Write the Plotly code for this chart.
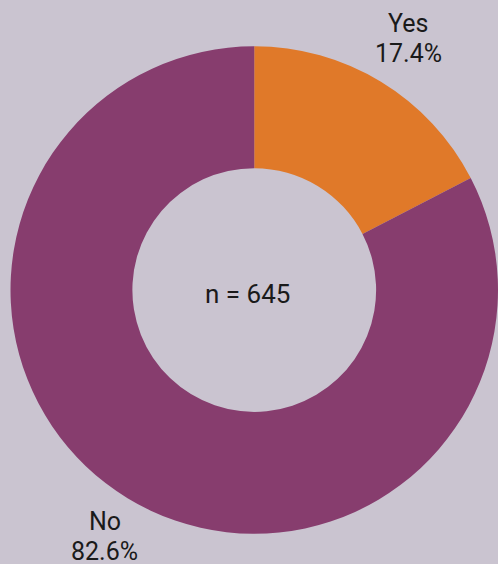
import math
import plotly.graph_objects as go

categories = ["Yes", "No"]
values = [17.4, 82.6]
colors = ["#e07929", "#873d6e"]
sample_label = "n = 645"

W, H = 498, 564
lx, ly = 256.5, 287.5           # centre used for the outside labels (pixels)
label_r = 292.0                 # distance of outside labels from that centre
line_gap = 15.0                 # half the distance between the two label lines

fig = go.Figure()
fig.add_trace(go.Pie(
    labels=categories,
    values=values,
    hole=0.5,
    sort=False,
    direction="clockwise",
    rotation=0,
    marker=dict(colors=colors, line=dict(width=0)),
    textinfo="none",
    hoverinfo="label+percent",
    showlegend=False,
    domain=dict(x=[0.0211, 1.0], y=[(H - 535) / H, (H - 45) / H]),
))

label_font = dict(family="Roboto", size=25, color="#1a1a1a")

# outside labels placed along each slice's mid-angle
total = sum(values)
cum = 0.0
for cat, val in zip(categories, values):
    mid = (cum + val / 2) / total * 2 * math.pi
    cum += val
    px = lx + label_r * math.sin(mid)
    py = ly - label_r * math.cos(mid)
    for txt, dy in ((cat, -line_gap), (f"{val:.1f}%", line_gap)):
        fig.add_annotation(
            x=px / W, y=1 - (py + dy) / H, xref="paper", yref="paper",
            text=txt, showarrow=False,
            xanchor="center", yanchor="middle",
            font=label_font,
        )

fig.add_annotation(
    x=247 / W, y=1 - 294 / H, xref="paper", yref="paper",
    text=sample_label, showarrow=False, xanchor="center", yanchor="middle",
    font=dict(family="Roboto", size=26, color="#1a1a1a"),
)

fig.update_layout(
    width=W, height=H, autosize=False,
    margin=dict(l=0, r=0, t=0, b=0),
    paper_bgcolor="#cac4d0",
    plot_bgcolor="#cac4d0",
)

fig.write_html(
    "out.html",
    config={"displayModeBar": False},
    post_script="document.body.style.margin='0';document.body.style.background='#cac4d0';",
)
